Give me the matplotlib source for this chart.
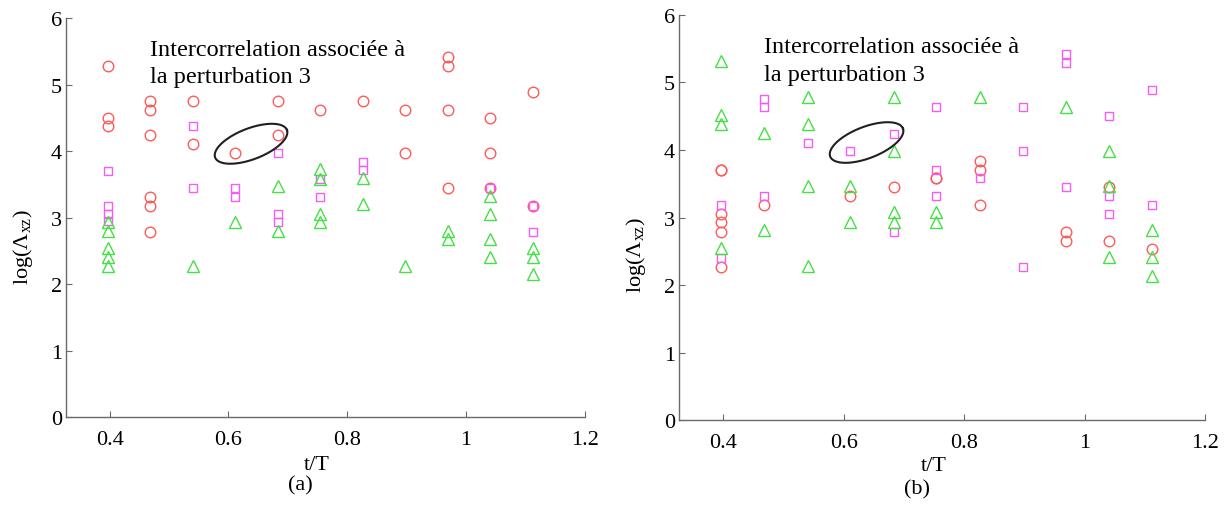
import numpy as np
import matplotlib
matplotlib.use("Agg")
import matplotlib.pyplot as plt

plt.rcParams['font.family'] = ['Liberation Serif', 'DejaVu Serif']
plt.rcParams['mathtext.fontset'] = 'custom'
plt.rcParams['mathtext.rm'] = 'Liberation Serif'
plt.rcParams['mathtext.it'] = 'Liberation Serif:italic'

# t/T positions of the 11 columns
t_over_T = [0.397, 0.468, 0.540, 0.611, 0.683, 0.754, 0.826, 0.897, 0.969, 1.040, 1.112]

# ---- panel (a) ----
a_circles = [[5.28, 4.50, 4.37], [4.76, 4.62, 4.24, 3.31, 3.18, 2.79], [4.76, 4.10], [3.97],
             [4.76, 4.24], [4.62], [4.76], [4.62, 3.97], [5.42, 5.28, 4.62, 3.45],
             [4.50, 3.97, 3.45], [4.89, 3.18]]
a_squares = [[3.70, 3.18, 3.06, 2.95], [], [4.37, 3.45], [3.45, 3.31], [3.97, 3.05, 2.93],
             [3.58, 3.31], [3.84, 3.71], [], [], [3.45], [3.18, 2.79]]
a_triangles = [[2.93, 2.80, 2.54, 2.41, 2.28], [], [2.28], [2.94], [3.47, 2.80],
               [3.73, 3.58, 3.06, 2.94], [3.60, 3.20], [2.28], [2.80, 2.68],
               [3.33, 3.06, 2.68, 2.41], [2.54, 2.41, 2.15]]

# ---- panel (b) ----
b_circles = [[3.71, 3.71, 3.05, 2.93, 2.79, 2.27], [3.19], [], [3.32], [3.45], [3.58, 3.58],
             [3.84, 3.71, 3.19], [], [2.79, 2.66], [3.45, 2.66], [2.54]]
b_squares = [[3.19, 2.40], [4.75, 4.63, 3.32], [4.10], [3.98], [4.24, 2.79], [4.63, 3.71, 3.32],
             [3.58], [4.63, 3.98, 2.27], [5.42, 5.29, 3.45], [4.50, 3.32, 3.05], [4.89, 3.19]]
b_triangles = [[5.31, 4.51, 4.38, 2.55], [4.25, 2.81], [4.78, 4.38, 3.47, 2.29], [3.47, 2.94],
               [4.78, 3.99, 3.08, 2.94], [3.08, 2.94], [4.78], [], [4.63], [3.99, 3.47, 2.41],
               [2.82, 2.41, 2.14]]

x_ticks = [0.4, 0.6, 0.8, 1.0, 1.2]
x_ticklabels = ['0.4', '0.6', '0.8', '1', '1.2']
y_ticks = [0, 1, 2, 3, 4, 5, 6]

annot_lines = ['Intercorrelation associée à', 'la perturbation 3']

RED = '#ff5a5a'
MAG = '#f55cf5'
GRN = '#45e045'


def flatten(cols):
    xs, ys = [], []
    for x, col in zip(t_over_T, cols):
        for y in col:
            xs.append(x)
            ys.append(y)
    return xs, ys


fig = plt.figure(figsize=(12.29, 5.06), dpi=100)
axA = fig.add_axes([0.0537, 0.1733, 0.4223, 0.7892])
axB = fig.add_axes([0.5525, 0.167, 0.428, 0.802])

panels = [
    (axA, a_circles, a_squares, a_triangles, '(a)', (0.244, 0.040), -0.117, (-0.083, 0.43)),
    (axB, b_circles, b_squares, b_triangles, '(b)', (0.746, 0.031), -0.112, (-0.082, 0.41)),
]

for ax, circ, sq, tri, tag, tagpos, xlab_y, ylab_pos in panels:
    x, y = flatten(circ)
    ax.plot(x, y, 'o', ms=7.6, mfc='none', mec=RED, mew=1.0, ls='none')
    x, y = flatten(sq)
    ax.plot(x, y, 's', ms=6.0, mfc='none', mec=MAG, mew=1.0, ls='none')
    x, y = flatten(tri)
    ax.plot(x, y, '^', ms=8.2, mfc='none', mec=GRN, mew=1.0, ls='none')

    ax.set_xlim(0.3266, 1.2)
    ax.set_ylim(0, 6)
    ax.set_xticks(x_ticks)
    ax.set_xticklabels(x_ticklabels)
    ax.set_yticks(y_ticks)
    for s in ['top', 'right']:
        ax.spines[s].set_visible(False)
    for s in ['left', 'bottom']:
        ax.spines[s].set_color('#6a6a6a')
        ax.spines[s].set_linewidth(1.0)
    ax.tick_params(axis='both', direction='in', length=4, width=0.8, color='#6a6a6a',
                   labelsize=16, labelcolor='black')
    ax.tick_params(axis='x', pad=9)
    ax.tick_params(axis='y', pad=3)

    ax.set_xlabel('t/T', fontsize=16)
    ax.xaxis.set_label_coords(0.484, xlab_y)
    ax.xaxis.label.set_va('center')
    ax.set_ylabel(r'log($\Lambda_{\mathrm{xz}}$)', fontsize=16)
    ax.yaxis.set_label_coords(*ylab_pos)
    ax.yaxis.label.set_va('center')

    ax.text(0.468, 5.45, annot_lines[0], fontsize=17.5, ha='left', va='baseline')
    ax.text(0.468, 5.04, annot_lines[1], fontsize=17.5, ha='left', va='baseline')

    # ellipse highlighting two points (defined in pixel shape, converted to data units)
    th = np.deg2rad(21)
    a_px, b_px = 38.5, 15.5
    px_x, px_y = 595.0, 66.6
    t = np.linspace(0, 2 * np.pi, 200)
    ex = 0.638 + (a_px * np.cos(t) * np.cos(th) - b_px * np.sin(t) * np.sin(th)) / px_x
    ey = 4.11 + (a_px * np.cos(t) * np.sin(th) + b_px * np.sin(t) * np.cos(th)) / px_y
    ax.plot(ex, ey, color='#202020', lw=1.5)

    fig.text(tagpos[0], tagpos[1], tag, fontsize=16, ha='center', va='center')

fig.savefig('out.png', dpi=100)
